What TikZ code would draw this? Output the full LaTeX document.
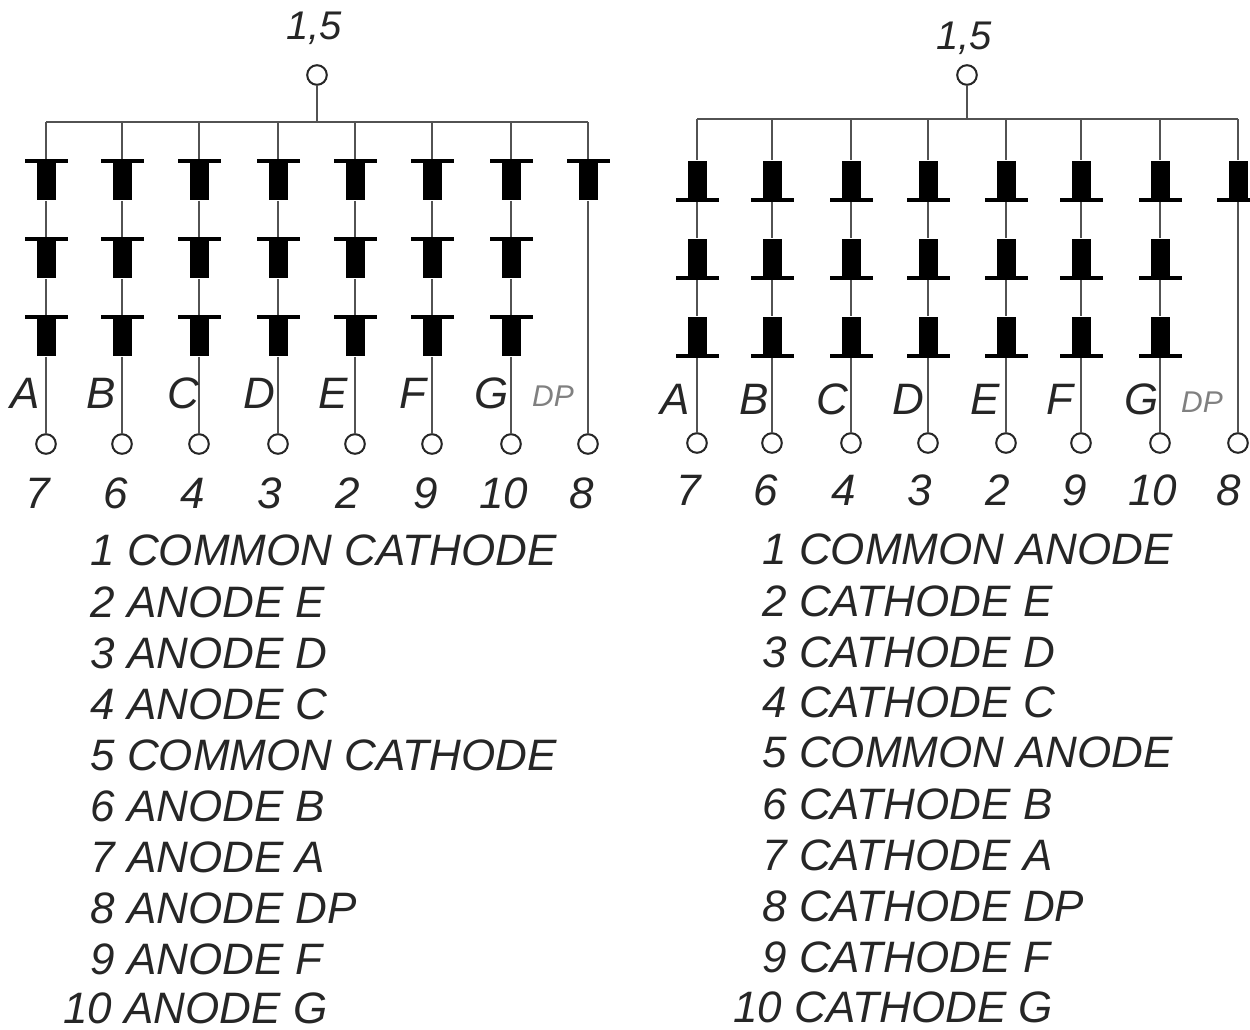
\documentclass[tikz,border=0pt]{standalone}
\usepackage{fontspec}
\setmainfont{Liberation Sans}
\tikzset{
  wire/.style={draw=black!68, line width=1.25pt},
  dbody/.style={rectangle, fill=black, inner sep=0pt, minimum width=9.5pt, minimum height=19.5pt},
  dbar/.style={rectangle, fill=black, inner sep=0pt, minimum width=21.5pt, minimum height=1.6pt},
  pin/.style={circle, draw=black!85, fill=white, line width=1pt, inner sep=0pt, minimum size=9.8pt},
  lettering/.style={inner sep=0pt, text=black!85, font=\fontsize{22}{24}\selectfont\itshape},
  toplabel/.style={lettering, font=\fontsize{20}{22}\selectfont\itshape},
  dplabel/.style={inner sep=0pt, text=black!50, font=\fontsize{15}{17}\selectfont\itshape},
  listing/.style={lettering, anchor=west}
}
\begin{document}
\begin{tikzpicture}[x=0.5pt, y=-0.5pt]
  \useasboundingbox (0,0) rectangle (1250,1030);

  % Left display, common cathode
  \node[pin] (pinL) at (317,75) {};
  \node[toplabel] (topL) at (314,28) {1,5};
  \coordinate (busL) at (317,122);
  \draw[wire] (pinL) -- (busL);
  \foreach \xpos/\name/\num/\numx/\lblx in {46/A/7/38/25, 122/B/6/116/101, 199/C/4/193/183, 278/D/3/270/259,
      355/E/2/348/333, 432/F/9/426/413, 511/G/10/504/492} {
    \coordinate (tapL\name) at (\xpos,122);
    \draw[wire] (busL) -- (tapL\name);
    \foreach \row/\ypos in {1/161, 2/239, 3/317} {
      \node[dbar] (barL\name\row) at (\xpos,\ypos) {};
      \node[dbody, anchor=north] (bodyL\name\row) at (barL\name\row.center) {};
    }
    \draw[wire] (tapL\name) -- (barL\name1);
    \draw[wire] (bodyL\name1) -- (barL\name2);
    \draw[wire] (bodyL\name2) -- (barL\name3);
    \node[pin] (pinL\name) at (\xpos,444) {};
    \draw[wire] (bodyL\name3) -- (pinL\name);
    \node[lettering] (lblL\name) at (\lblx,393) {\name};
    \node[lettering] (numL\name) at (\numx,493) {\num};
  }
  \coordinate (tapLDP) at (588,122);
  \draw[wire] (busL) -- (tapLDP);
  \node[dbar] (barLDP) at (588,161) {};
  \node[dbody, anchor=north] (bodyLDP) at (barLDP.center) {};
  \node[pin] (pinLDP) at (588,444) {};
  \draw[wire] (tapLDP) -- (barLDP);
  \draw[wire] (bodyLDP) -- (pinLDP);
  \node[dplabel] (lblLDP) at (553,396) {DP};
  \node[lettering] (numLDP) at (582,493) {8};

  % Right display, common anode
  \node[pin] (pinR) at (967,75) {};
  \node[toplabel] (topR) at (964,38) {1,5};
  \coordinate (busR) at (967,119);
  \draw[wire] (pinR) -- (busR);
  \foreach \xpos/\name/\num/\numx/\lblx in {697/A/7/689/675, 772/B/6/766/754, 851/C/4/844/832, 928/D/3/920/908,
      1006/E/2/998/985, 1081/F/9/1075/1060, 1160/G/10/1153/1142} {
    \coordinate (tapR\name) at (\xpos,119);
    \draw[wire] (busR) -- (tapR\name);
    \foreach \row/\ypos in {1/200, 2/278, 3/356} {
      \node[dbar] (barR\name\row) at (\xpos,\ypos) {};
      \node[dbody, anchor=south] (bodyR\name\row) at (barR\name\row.center) {};
    }
    \draw[wire] (tapR\name) -- (bodyR\name1);
    \draw[wire] (barR\name1) -- (bodyR\name2);
    \draw[wire] (barR\name2) -- (bodyR\name3);
    \node[pin] (pinR\name) at (\xpos,443) {};
    \draw[wire] (barR\name3) -- (pinR\name);
    \node[lettering] (lblR\name) at (\lblx,399) {\name};
    \node[lettering] (numR\name) at (\numx,490) {\num};
  }
  \coordinate (tapRDP) at (1238,119);
  \draw[wire] (busR) -- (tapRDP);
  \node[dbar] (barRDP) at (1238,200) {};
  \node[dbody, anchor=south] (bodyRDP) at (barRDP.center) {};
  \node[pin] (pinRDP) at (1238,443) {};
  \draw[wire] (tapRDP) -- (bodyRDP);
  \draw[wire] (barRDP) -- (pinRDP);
  \node[dplabel] (lblRDP) at (1202,402) {DP};
  \node[lettering] (numRDP) at (1229,490) {8};

  % Pin lists
  \foreach \xpos/\ypos/\idx/\txt in {90/550/1/1 COMMON CATHODE, 90/602/2/2 ANODE E, 90/653/3/3 ANODE D,
      90/704/4/4 ANODE C, 90/755/5/5 COMMON CATHODE, 90/806/6/6 ANODE B, 90/857/7/7 ANODE A,
      90/908/8/8 ANODE DP, 90/959/9/9 ANODE F, 63/1008/10/10 ANODE G}
    \node[listing] (listL\idx) at (\xpos,\ypos) {\txt};
  \foreach \xpos/\ypos/\idx/\txt in {762/549/1/1 COMMON ANODE, 762/601/2/2 CATHODE E, 762/652/3/3 CATHODE D,
      762/702/4/4 CATHODE C, 762/752/5/5 COMMON ANODE, 762/804/6/6 CATHODE B, 762/855/7/7 CATHODE A,
      762/906/8/8 CATHODE DP, 762/957/9/9 CATHODE F, 733/1007/10/10 CATHODE G}
    \node[listing] (listR\idx) at (\xpos,\ypos) {\txt};
\end{tikzpicture}
\end{document}
